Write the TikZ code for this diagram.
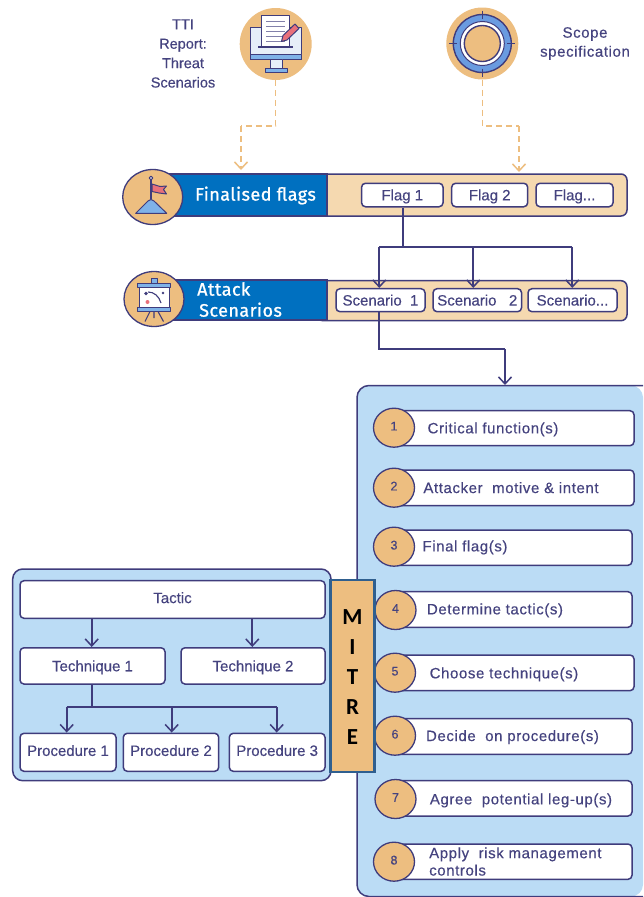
\documentclass[tikz,border=0pt]{standalone}
\usepackage{fontspec}
\setmainfont[FakeBold=0.35]{Liberation Sans}
\newfontfamily\rowfont[LetterSpace=4,FakeBold=0.35]{Liberation Sans}
\newfontfamily\bandfont[FakeBold=1,LetterSpace=2.5]{Fira Sans}
\newfontfamily\mitrefont{Carlito}
\usetikzlibrary{arrows.meta,shapes.geometric,calc}
\definecolor{ink}{HTML}{3F3C7C}
\definecolor{inktext}{HTML}{45437F}
\definecolor{orangefill}{HTML}{EDBE80}
\definecolor{creamfill}{HTML}{F5D9B0}
\definecolor{panelblue}{HTML}{BBDCF5}
\definecolor{bandblue}{HTML}{0070C0}
\definecolor{mitreedge}{HTML}{2F5F8F}
\definecolor{iconblue}{HTML}{7FB2E8}
\definecolor{ringblue}{HTML}{6A9BE0}
\definecolor{pinkred}{HTML}{E8707A}
\definecolor{pagegrey}{HTML}{E6EEF8}
\tikzset{
  lbl/.style={font=\fontsize{15}{17}\selectfont,text=inktext,inner sep=0pt,text height=10.7pt,text depth=0pt},
  rowlbl/.style={font=\rowfont\fontsize{15}{17}\selectfont,text=inktext,inner sep=0pt,align=left,text height=10.7pt,text depth=0pt},
  wbox/.style={draw=ink,line width=1.5pt,fill=white,rounded corners=4pt,inner sep=0pt,lbl},
  liftbox/.style={wbox,text depth=3.5pt},
  crm/.style={draw=ink,line width=1.5pt,fill=creamfill,rounded corners=6pt},
  band/.style={draw=ink,line width=2pt,fill=bandblue,inner sep=0pt},
  bandtxt/.style={font=\bandfont\fontsize{18}{21}\selectfont,text=white,inner sep=0pt},
  badge/.style={ellipse,draw=ink,line width=1.3pt,fill=orangefill,inner sep=0pt,minimum width=41pt,minimum height=39pt,
    font=\fontsize{12.5}{14}\selectfont,text=inktext,text height=8.5pt,text depth=3pt},
  dot/.style={circle,fill=orangefill,inner sep=0pt,minimum size=72pt},
  arr/.style={draw=ink,line width=1.7pt,-{Straight Barb[length=7pt,width=13pt,line width=1.5pt]}},
  lin/.style={draw=ink,line width=1.7pt},
  dsh/.style={draw=orangefill,line width=1.5pt,dash pattern=on 6pt off 4pt},
  dsharr/.style={dsh,-{Straight Barb[length=7pt,width=13pt,line width=1.5pt]}},
  ic/.style={draw=ink,line width=1pt,line join=round},
}
\begin{document}
\begin{tikzpicture}[x=1pt,y=-1pt]
\useasboundingbox (0,0) rectangle (643,897);
\fill[white] (0,0) rectangle (643,897);

% ---------- right panel
\fill[panelblue,rounded corners=12pt] (643,385.5) -- (357,385.5) -- (357,896.5) -- (643,896.5) -- cycle;
\draw[ink,line width=1.5pt,rounded corners=12pt] (643,385.5) -- (357,385.5) -- (357,896.5) -- (643,896.5);
\coordinate (paneltop) at (505,385);

% ---------- top icons
\node[dot] (reportdot) at (275.7,44) {};
\node[dot] (scopedot) at (482.3,43.5) {};

% monitor icon
\fill[pagegrey,ic] (250,27) rectangle (301.7,59);
\fill[iconblue,ic] (250,54) rectangle (301.7,59);
\fill[pagegrey,ic] (270.7,59) rectangle (282.7,68);
\fill[iconblue,ic] (265,68) rectangle (287,72.7);
\fill[white,ic] (261.7,15) rectangle (289.3,46.7);
\foreach \yy in {21,26,31,36,41}{\draw[ink!65,line width=1pt] (266,\yy) -- (285,\yy);}
\draw[ink,line width=1.2pt] (258,47) -- (293,47);
\fill[pinkred,ic] (281.5,41.5) -- (283,35.5) -- (295,24) -- (299,28.5) -- (287,40) -- cycle;

% scope icon
\fill[ringblue,ic,line width=1.4pt] (482.3,43.5) circle (29);
\fill[white,ic] (482.3,43.5) circle (22);
\fill[orangefill,ic,line width=1.4pt] (482.3,43.5) circle (18);
\draw[ink,line width=1.2pt] (482.3,10.5) -- (482.3,18.5) (482.3,68.5) -- (482.3,76.5) (449.3,43.5) -- (457.3,43.5) (507.3,43.5) -- (515.3,43.5);

% top labels
\node[lbl,align=center,text height=,text depth=,font=\fontsize{14.5}{19.4}\selectfont] (ttilbl) at (183,53.5) {TTI\\Report:\\Threat\\Scenarios};
\node[lbl,align=center,text height=,text depth=,font=\rowfont\fontsize{15}{19}\selectfont] (scopelbl) at (585,43.5) {Scope\\specification};

% ---------- Finalised flags row
\node[crm,minimum width=310pt,minimum height=42pt,inner sep=0pt] (flagtray) at (472,195) {};
\node[band,minimum width=162pt,minimum height=42pt] (flagband) at (246,194.5) {};
\node[bandtxt] (flagtxt) at (255.5,195.5) {Finalised flags};
\node[badge,minimum width=60pt,minimum height=55pt] (flagbadge) at (152.7,197) {};
\fill[iconblue,ic] (135.7,213.3) -- (148,201) .. controls (150,199) and (152,199) .. (154,201) -- (166.7,213.3) -- cycle;
\draw[ink,line width=1.2pt] (151,179) -- (151,199);
\fill[white,ic] (151,178) circle (1.8);
\fill[pinkred,ic] (152,184) -- (160,186.5) -- (166.5,186) -- (163.5,189.5) -- (166.5,194) -- (159,193) -- (152,191.5) -- cycle;

\node[wbox,minimum width=81.5pt,minimum height=23.5pt] (flagA) at (402.3,195) {Flag 1};
\node[wbox,minimum width=76pt,minimum height=23.5pt] (flagB) at (489.7,195) {Flag 2};
\node[wbox,minimum width=77pt,minimum height=23.5pt] (flagC) at (574.5,195) {Flag...};

% ---------- Attack scenarios row
\node[crm,minimum width=310pt,minimum height=40pt,inner sep=0pt] (scentray) at (472,300.7) {};
\node[band,minimum width=159pt,minimum height=40pt] (scenband) at (247.5,300) {};
\node[bandtxt,align=left,anchor=west] (scentxt) at (197,299.5) {Attack\\\hspace*{2pt}Scenarios};
\node[badge,minimum width=60pt,minimum height=55pt] (scenbadge) at (154,299) {};
\fill[iconblue,ic] (151,278) rectangle (157.7,283);
\fill[white,ic] (139,284) rectangle (169,310);
\fill[iconblue,ic] (137.5,283) rectangle (170.5,287);
\fill[iconblue,ic] (137.5,307) rectangle (170.5,311.5);
\draw[ink,line width=1.1pt] (150,311.5) -- (145,321.5) (158,311.5) -- (163.5,321.5) (154,311.5) -- (154,318);
\draw[ink,line width=1.1pt] (148,292) .. controls (154,292) and (159,296) .. (161,303);
\fill[ink] (146,293.5) circle (1.8) (163,293) circle (1.4);
\fill[pinkred] (147.5,302) circle (2);

\node[wbox,minimum width=89pt,minimum height=23pt] (scenA) at (380.5,300.2) {Scenario\ \ 1};
\node[wbox,minimum width=88.5pt,minimum height=23pt] (scenB) at (477.3,300.2) {Scenario\ \ \ 2};
\node[wbox,minimum width=89pt,minimum height=23pt] (scenC) at (572.5,300.2) {Scenario...};

% ---------- connectors top
\coordinate (dj) at (275.7,126);
\coordinate (dk) at (241,126);
\coordinate (dtipa) at (241,170);
\draw[dsh] (reportdot.south) -- (dj) -- (dk);
\draw[dsharr] (dk) -- (dtipa);
\coordinate (ej) at (482.3,126);
\coordinate (ek) at (519,126);
\coordinate (etip) at (519,172);
\draw[dsh] (scopedot.south) -- (ej) -- (ek);
\draw[dsharr] (ek) -- (etip);

\coordinate (fj) at (403.3,246.7);
\coordinate (fl) at (379.3,246.7);
\coordinate (fm) at (473.3,246.7);
\coordinate (fr) at (572.3,246.7);
\draw[lin] (flagA.south -| fj) -- (fj);
\draw[lin] (fl) -- (fr);
\draw[arr] (fl) -- (fl |- scenA.north);
\draw[arr] (fm) -- (fm |- scenB.north);
\draw[arr] (fr) -- (fr |- scenC.north);

\coordinate (gj) at (379.3,349);
\coordinate (gk) at (505,349);
\draw[lin] (scenA.south -| gj) -- (gj) -- (gk);
\draw[arr] (gk) -- (paneltop);

% ---------- left panel
\node[draw=ink,line width=1.5pt,fill=panelblue,rounded corners=10pt,minimum width=318.3pt,minimum height=211.7pt,inner sep=0pt] (leftpanel) at (171.85,674.85) {};
\node[liftbox,minimum width=305pt,minimum height=37.6pt] (tactic) at (172.5,599.5) {Tactic};
\node[wbox,minimum width=145pt,minimum height=36.3pt] (techA) at (92.5,665.9) {Technique 1};
\node[wbox,minimum width=144pt,minimum height=36.3pt] (techB) at (253,665.9) {Technique 2};
\node[liftbox,minimum width=96pt,minimum height=38pt] (procA) at (68,752.3) {Procedure 1};
\node[liftbox,minimum width=95.4pt,minimum height=38pt] (procB) at (171,752.3) {Procedure 2};
\node[liftbox,minimum width=95.7pt,minimum height=38pt] (procC) at (277.15,752.3) {Procedure 3};

\coordinate (tl) at (91.7,633);
\coordinate (tr) at (252.3,633);
\draw[arr] (tactic.south -| tl) -- (techA.north -| tl);
\draw[arr] (tactic.south -| tr) -- (techB.north -| tr);
\coordinate (pj) at (91.7,707);
\coordinate (pl) at (66.7,707);
\coordinate (pm) at (171.7,707);
\coordinate (pr) at (276.7,707);
\draw[lin] (techA.south -| pj) -- (pj);
\draw[lin] (pl) -- (pr);
\draw[arr] (pl) -- (procA.north -| pl);
\draw[arr] (pm) -- (procB.north -| pm);
\draw[arr] (pr) -- (procC.north -| pr);

% ---------- steps
\node[wbox,minimum width=240pt,minimum height=35pt] (rowA) at (514,428.2) {};
\node[wbox,minimum width=240pt,minimum height=35.7pt] (rowB) at (514,487.85) {};
\node[wbox,minimum width=238pt,minimum height=35.3pt] (rowC) at (513,547.65) {};
\node[wbox,minimum width=237pt,minimum height=35.6pt] (rowD) at (513.5,609.5) {};
\node[wbox,minimum width=239pt,minimum height=35.7pt] (rowE) at (514.5,672.85) {};
\node[wbox,minimum width=237pt,minimum height=35.6pt] (rowF) at (513.5,736.5) {};
\node[wbox,minimum width=237pt,minimum height=35.3pt] (rowG) at (513.5,798.35) {};
\node[wbox,minimum width=238pt,minimum height=35.3pt] (rowH) at (513,861.65) {};

\node[badge] (badgeA) at (394,427.7) {1};
\node[badge] (badgeB) at (394,487.7) {2};
\node[badge] (badgeC) at (394,546.7) {3};
\node[badge] (badgeD) at (395.5,610) {4};
\node[badge] (badgeE) at (395,672.7) {5};
\node[badge] (badgeF) at (395,735.7) {6};
\node[badge] (badgeG) at (395.5,799) {7};
\node[badge] (badgeH) at (394,861.7) {8};

\node[rowlbl] (txtA) at (493,428) {Critical function(s)};
\node[rowlbl] (txtB) at (511,487.7) {Attacker\ \ motive \& intent};
\node[rowlbl] (txtC) at (465,546) {Final flag(s)};
\node[rowlbl] (txtD) at (495,609) {Determine tactic(s)};
\node[rowlbl] (txtE) at (504,673) {Choose technique(s)};
\node[rowlbl] (txtF) at (512.5,735.7) {Decide\ \ on procedure(s)};
\node[rowlbl] (txtG) at (521,799) {Agree\ \ potential leg-up(s)};
\node[rowlbl,anchor=west,text height=,text depth=,font=\rowfont\fontsize{15}{17.3}\selectfont] (txtH) at (429,861.5) {Apply\ \ risk management\\controls};

% ---------- MITRE
\node[draw=mitreedge,line width=2.6pt,fill=orangefill,minimum width=44pt,minimum height=192pt,inner sep=0pt] (mitre) at (352.5,675.8) {};
\node[align=center,inner sep=0pt,font=\mitrefont\bfseries\fontsize{23}{30.2}\selectfont,text=black] (mitretxt) at (352.5,677) {M\\I\\T\\R\\E};
\end{tikzpicture}
\end{document}
